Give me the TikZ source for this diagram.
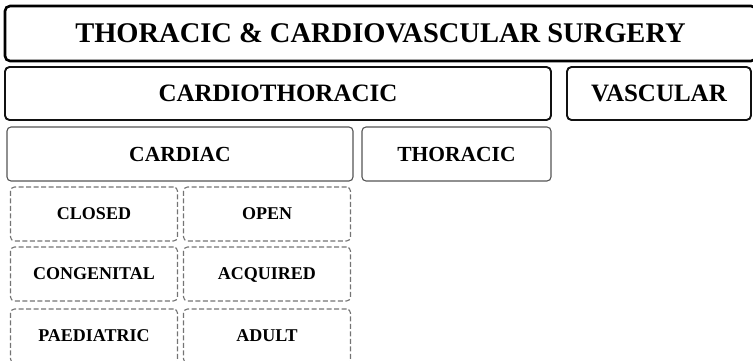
\documentclass[tikz,border=0pt]{standalone}
\usepackage{fontspec}
\setmainfont{Liberation Serif}
\definecolor{surgLine}{HTML}{111111}
\definecolor{subLine}{HTML}{555555}
\definecolor{dashLine}{HTML}{747474}
\tikzset{
  surgfig/.style={
    x=1pt, y=-1pt,
    every node/.append style={font=\bfseries, text depth=0pt, inner sep=0pt},
  },
  topnode/.style={
    draw=black, line width=2.6pt, rounded corners=5pt, fill=white,
    minimum width=751pt, minimum height=55pt,
    font=\bfseries\fontsize{28.5}{30}\selectfont,
  },
  areanode/.style={
    draw=surgLine, line width=1.9pt, rounded corners=4.5pt, fill=white,
    minimum height=53pt, font=\bfseries\fontsize{25}{27}\selectfont,
  },
  subnode/.style={
    draw=subLine, line width=1.1pt, rounded corners=4pt, fill=white,
    minimum height=54pt, font=\bfseries\fontsize{21.5}{23}\selectfont,
  },
  % Unterteilungen: gestrichelt und grau umrandet.
  dashnode/.style={
    draw=dashLine, line width=1.1pt, dash pattern=on 5pt off 2.5pt,
    rounded corners=4pt, fill=white, minimum width=167pt, minimum height=54pt,
    font=\bfseries\fontsize{18}{20}\selectfont,
  },
}
\begin{document}
\begin{tikzpicture}[surgfig]
  \useasboundingbox (0,0) rectangle (753,361);
  \node[topnode] (Surgery) at (380.5,33.5) {THORACIC \& CARDIOVASCULAR SURGERY};
  \node[areanode, minimum width=546pt] (Cardiothoracic) at (278,93.5) {CARDIOTHORACIC};
  \node[areanode, minimum width=184pt] (Vascular) at (659,93.5) {VASCULAR};
  \node[subnode, minimum width=346pt] (Cardiac) at (180,154) {CARDIAC};
  \node[subnode, minimum width=189pt] (Thoracic) at (456.5,154) {THORACIC};
  \node[dashnode] (Closed) at (94,214) {CLOSED};
  \node[dashnode] (Open) at (267,214) {OPEN};
  \node[dashnode] (Congenital) at (94,274) {CONGENITAL};
  \node[dashnode] (Acquired) at (267,274) {ACQUIRED};
  \node[dashnode] (Paediatric) at (94,336) {PAEDIATRIC};
  \node[dashnode] (Adult) at (267,336) {ADULT};
\end{tikzpicture}
\end{document}
